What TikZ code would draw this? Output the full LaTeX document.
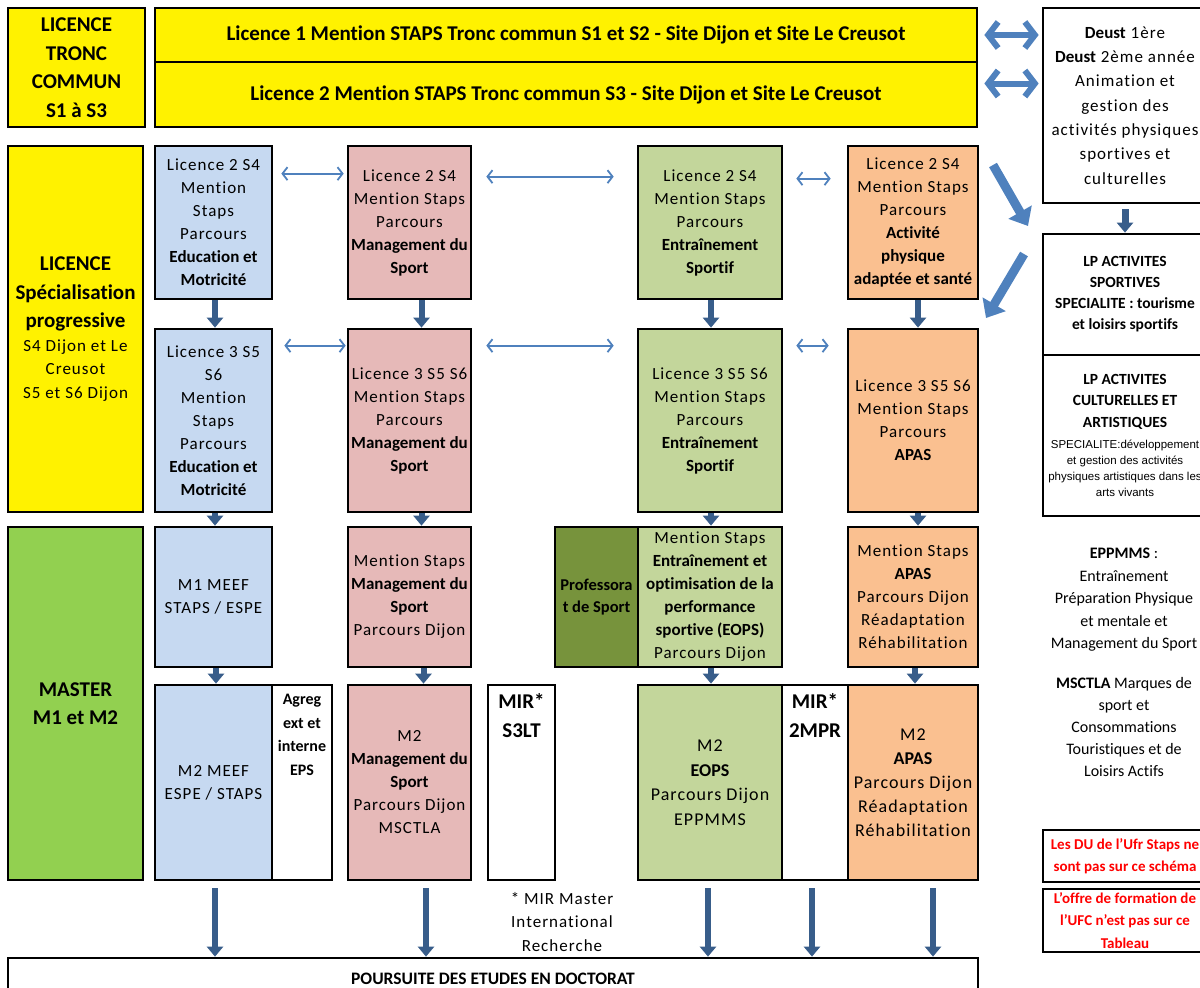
\documentclass[tikz,border=0pt]{standalone}
\usepackage{fontspec}
\setmainfont{Carlito}[Ligatures={TeX,NoCommon}]
\newfontfamily\boxfont{Carlito}[Ligatures={TeX,NoCommon},UprightFeatures={LetterSpace=6}]
\newfontfamily\arialfont{Liberation Sans}
\usetikzlibrary{arrows.meta, calc, positioning}

\definecolor{boxblue}{HTML}{C6D9F1}
\definecolor{boxpink}{HTML}{E6B9B8}
\definecolor{boxgreen}{HTML}{C3D69B}
\definecolor{boxorange}{HTML}{FAC090}
\definecolor{mastergreen}{HTML}{92D050}
\definecolor{profgreen}{HTML}{77933C}
\definecolor{arrowblue}{HTML}{4F81BD}
\definecolor{arrowdark}{HTML}{385D8A}
\definecolor{noteRed}{HTML}{FF0000}

\begin{document}
\begin{tikzpicture}[x=1pt,y=-1pt,
    box/.style={draw=black,line width=2.7pt,align=center,inner sep=1pt,
      font=\boxfont\fontsize{17}{23}\selectfont},
    side box/.style={box,fill=yellow,font=\boxfont\fontsize{21}{28.5}\selectfont},
    title box/.style={box,fill=yellow,minimum width=822,
      font=\fontsize{21}{24}\selectfont\bfseries},
    white box/.style={box,fill=white},
    top text/.style={inner sep=0pt},
    free text/.style={align=center,inner sep=0pt},
    wide arrow/.style={line width=6pt,color=arrowblue,
      arrows={Straight Barb[length=10pt,width=26pt]-Straight Barb[length=10pt,width=26pt]}},
    thin arrow/.style={line width=1.8pt,color=arrowblue,
      arrows={Straight Barb[length=5pt,width=13pt]-Straight Barb[length=5pt,width=13pt]}},
    down arrow/.style={line width=6pt,color=arrowdark,
      arrows={-Triangle[length=10pt,width=16pt]}},
    diag arrow/.style={line width=9pt,color=arrowblue,
      arrows={-Triangle[length=16pt,width=26pt]}}]

  \useasboundingbox (0,0) rectangle (1200,988);

  \node[side box,minimum width=137,minimum height=119] (tronc) at (76.5,67.5)
    {\textbf{LICENCE}\\\textbf{TRONC}\\\textbf{COMMUN}\\\textbf{S1 à S3}};
  \node[title box,minimum height=54] (l1) at (566,35)
    {Licence 1 Mention STAPS Tronc commun S1 et S2 - Site Dijon et Site Le Creusot};
  \node[title box,minimum height=65] (l2) at (566,94.5)
    {Licence 2 Mention STAPS Tronc commun S3 - Site Dijon et Site Le Creusot};
  \node[white box,minimum width=164,minimum height=195,font=\boxfont\fontsize{17}{24.3}\selectfont] (deust) at (1125,105.5)
    {\textbf{Deust} 1ère\\\textbf{Deust} 2ème année\\Animation et\\gestion des\\activités physiques\\sportives et\\culturelles};

  \node[side box,minimum width=135,minimum height=366] (spec) at (75.5,329)
    {\textbf{LICENCE}\\\textbf{Spécialisation}\\\textbf{progressive}\\[-5pt]
     {\fontsize{17}{23}\selectfont S4 Dijon et Le}\\[-5pt]
     {\fontsize{17}{23}\selectfont Creusot}\\[-5pt]
     {\fontsize{17}{23}\selectfont S5 et S6 Dijon}};

  \node[box,fill=boxblue,minimum width=117,minimum height=153] (b2) at (213.5,222.5)
    {Licence 2 S4\\Mention\\Staps\\Parcours\\\textbf{Education et}\\\textbf{Motricité}};
  \node[box,fill=boxpink,minimum width=123,minimum height=153] (p2) at (409.5,222.5)
    {Licence 2 S4\\Mention Staps\\Parcours\\\textbf{Management du}\\\textbf{Sport}};
  \node[box,fill=boxgreen,minimum width=144,minimum height=153] (g2) at (710,222.5)
    {Licence 2 S4\\Mention Staps\\Parcours\\\textbf{Entraînement}\\\textbf{Sportif}};
  \node[box,fill=boxorange,minimum width=130,minimum height=153] (o2) at (913,222.5)
    {Licence 2 S4\\Mention Staps\\Parcours\\\textbf{Activité}\\\textbf{physique}\\\textbf{adaptée et santé}};

  \node[box,fill=boxblue,minimum width=117,minimum height=183] (b3) at (213.5,420.5)
    {Licence 3 S5\\S6\\Mention\\Staps\\Parcours\\\textbf{Education et}\\\textbf{Motricité}};
  \node[box,fill=boxpink,minimum width=123,minimum height=183] (p3) at (409.5,420.5)
    {Licence 3 S5 S6\\Mention Staps\\Parcours\\\textbf{Management du}\\\textbf{Sport}};
  \node[box,fill=boxgreen,minimum width=144,minimum height=183] (g3) at (710,420.5)
    {Licence 3 S5 S6\\Mention Staps\\Parcours\\\textbf{Entraînement}\\\textbf{Sportif}};
  \node[box,fill=boxorange,minimum width=130,minimum height=183] (o3) at (913,420.5)
    {Licence 3 S5 S6\\Mention Staps\\Parcours\\\textbf{APAS}};

  \node[white box,minimum width=164,minimum height=121,font=\fontsize{15.5}{21}\selectfont\bfseries] (lpsport) at (1125,294.5)
    {LP ACTIVITES\\SPORTIVES\\SPECIALITE : tourisme\\et loisirs sportifs};
  \node[white box,minimum width=164,minimum height=161,font=\fontsize{15.5}{21.5}\selectfont] (lpculture) at (1125,435.5)
    {\textbf{LP ACTIVITES}\\\textbf{CULTURELLES ET}\\\textbf{ARTISTIQUES}\\
     {\arialfont\fontsize{11.5}{16}\selectfont SPECIALITE:développement}\\[-5.5pt]
     {\arialfont\fontsize{11.5}{16}\selectfont et gestion des activités}\\[-5.5pt]
     {\arialfont\fontsize{11.5}{16}\selectfont physiques artistiques dans les}\\[-5.5pt]
     {\arialfont\fontsize{11.5}{16}\selectfont arts vivants}};

  \node[side box,fill=mastergreen,minimum width=135,minimum height=353] (master) at (75.5,703.5)
    {\textbf{MASTER}\\\textbf{M1 et M2}};

  \node[box,fill=boxblue,minimum width=117,minimum height=140] (b4) at (213.5,597)
    {M1 MEEF\\STAPS / ESPE};
  \node[box,fill=boxpink,minimum width=123,minimum height=140] (p4) at (409.5,597)
    {Mention Staps\\\textbf{Management du}\\\textbf{Sport}\\Parcours Dijon};
  \node[box,fill=profgreen,minimum width=83,minimum height=140,font=\fontsize{16.5}{22}\selectfont\bfseries] (prof) at (596.5,597)
    {Professora\\t de Sport};
  \node[box,fill=boxgreen,minimum width=144,minimum height=140] (g4) at (710,597)
    {Mention Staps\\\textbf{Entraînement et}\\\textbf{optimisation de la}\\\textbf{performance}\\\textbf{sportive (EOPS)}\\Parcours Dijon};
  \node[box,fill=boxorange,minimum width=130,minimum height=140] (o4) at (913,597)
    {Mention Staps\\\textbf{APAS}\\Parcours Dijon\\Réadaptation\\Réhabilitation};

  \node[box,fill=boxblue,minimum width=117,minimum height=195] (b5) at (213.5,782.5)
    {M2 MEEF\\ESPE / STAPS};
  \node[white box,top text,minimum width=60,minimum height=195,font=\fontsize{16}{23.5}\selectfont\bfseries] (agreg) at (302,782.5)
    {\parbox[c][190pt][t]{58pt}{\centering\vspace*{7pt}Agreg\\ext et\\interne\\EPS}};
  \node[box,fill=boxpink,minimum width=123,minimum height=195] (p5) at (409.5,782.5)
    {M2\\\textbf{Management du}\\\textbf{Sport}\\Parcours Dijon\\MSCTLA};
  \node[white box,top text,minimum width=67,minimum height=195,font=\fontsize{21}{29}\selectfont\bfseries] (mirs) at (521.5,782.5)
    {\parbox[c][190pt][t]{64pt}{\centering\vspace*{6pt}MIR*\\S3LT}};
  \node[box,fill=boxgreen,minimum width=144,minimum height=195,font=\boxfont\fontsize{18}{24.5}\selectfont] (g5) at (710,782.5)
    {M2\\\textbf{EOPS}\\Parcours Dijon\\EPPMMS};
  \node[white box,top text,minimum width=66,minimum height=195,font=\fontsize{21}{29}\selectfont\bfseries] (mirm) at (815,782.5)
    {\parbox[c][190pt][t]{63pt}{\centering\vspace*{6pt}MIR*\\2MPR}};
  \node[box,fill=boxorange,minimum width=130,minimum height=195,font=\boxfont\fontsize{18}{24}\selectfont] (o5) at (913,782.5)
    {M2\\\textbf{APAS}\\Parcours Dijon\\Réadaptation\\Réhabilitation};

  \node[free text,font=\fontsize{16}{22.5}\selectfont] (eppmms) at (1124,600)
    {\textbf{EPPMMS} :\\Entraînement\\Préparation Physique\\et mentale et\\Management du Sport};
  \node[free text,font=\fontsize{16}{21.8}\selectfont] (msctla) at (1124,727)
    {\textbf{MSCTLA} Marques de\\sport et\\Consommations\\Touristiques et de\\Loisirs Actifs};
  \node[white box,minimum width=164,minimum height=52,text=noteRed,font=\fontsize{15}{21.5}\selectfont\bfseries] (du) at (1125,856)
    {Les DU de l'Ufr Staps ne\\sont pas sur ce schéma};
  \node[white box,minimum width=164,minimum height=63,text=noteRed,font=\fontsize{15}{22.5}\selectfont\bfseries] (ufc) at (1125,920.5)
    {L'offre de formation de\\l'UFC n'est pas sur ce\\Tableau};

  \node[free text,font=\boxfont\fontsize{17}{23.5}\selectfont] (mirnote) at (562,922)
    {* MIR Master\\International\\Recherche};
  \node[white box,minimum width=970,minimum height=42,font=\fontsize{17.5}{22}\selectfont\bfseries] (doc) at (493,979)
    {POURSUITE DES ETUDES EN DOCTORAT};

  \draw[wide arrow,shorten <=6pt,shorten >=3pt] (l1.east) -- (l1.east -| deust.west);
  \draw[wide arrow,shorten <=6pt,shorten >=3pt] ([yshift=11pt]l2.east) -- ([yshift=11pt]l2.east -| deust.west);
  \draw[down arrow,line width=7pt] (deust.south) ++(0,5) -- (lpsport.north);

  \draw[thin arrow,shorten <=8pt,shorten >=3pt] ([yshift=-29pt]b2.north east) -- ([yshift=-29pt]p2.north west);
  \draw[thin arrow,shorten <=14pt,shorten >=23pt] ([yshift=-32pt]p2.north east) -- ([yshift=-32pt]g2.north west);
  \draw[thin arrow,shorten <=13pt,shorten >=16pt] ([yshift=-34pt]g2.north east) -- ([yshift=-34pt]o2.north west);
  \draw[thin arrow,shorten <=11pt,shorten >=1pt] ([yshift=-18pt]b3.north east) -- ([yshift=-18pt]p3.north west);
  \draw[thin arrow,shorten <=14pt,shorten >=23pt] ([yshift=-18pt]p3.north east) -- ([yshift=-18pt]g3.north west);
  \draw[thin arrow,shorten <=13pt,shorten >=18pt] ([yshift=-18pt]g3.north east) -- ([yshift=-18pt]o3.north west);

  \coordinate (diagA) at (993,165);
  \coordinate (diagB) at (1028,226);
  \coordinate (diagC) at (1024,254);
  \coordinate (diagD) at (986,318);
  \draw[diag arrow] (diagA) -- (diagB);
  \draw[diag arrow] (diagC) -- (diagD);

  \draw[down arrow] ([xshift=1.5pt]b2.south) -- ([xshift=1.5pt]b3.north);
  \draw[down arrow] ([xshift=12pt]p2.south) -- ([xshift=12pt]p3.north);
  \draw[down arrow] ([xshift=1pt]g2.south) -- ([xshift=1pt]g3.north);
  \draw[down arrow] ([xshift=5pt]o2.south) -- ([xshift=5pt]o3.north);
  \draw[down arrow] ([xshift=1.5pt]b3.south) -- ([xshift=1.5pt]b4.north);
  \draw[down arrow] ([xshift=12pt]p3.south) -- ([xshift=12pt]p4.north);
  \draw[down arrow] ([xshift=1pt]g3.south) -- ([xshift=1pt]g4.north);
  \draw[down arrow] ([xshift=5pt]o3.south) -- ([xshift=5pt]o4.north);
  \draw[down arrow] ([xshift=2.5pt]b4.south) -- ([xshift=2.5pt]b5.north);
  \draw[down arrow] ([xshift=14pt]p4.south) -- ([xshift=14pt]p5.north);
  \draw[down arrow] ([xshift=1pt]g4.south) -- ([xshift=1pt]g5.north);
  \draw[down arrow] ([xshift=2pt]o4.south) -- ([xshift=2pt]o5.north);

  \coordinate (endA) at ([xshift=1.5pt,yshift=-7pt]b5.south);
  \coordinate (endB) at ([xshift=16.5pt,yshift=-7pt]p5.south);
  \coordinate (endC) at ([xshift=-2pt,yshift=-7pt]g5.south);
  \coordinate (endD) at ([xshift=-3pt,yshift=-7pt]mirm.south);
  \coordinate (endE) at ([xshift=20pt,yshift=-7pt]o5.south);
  \foreach \e in {endA,endB,endC,endD,endE}
    \draw[down arrow] (\e) -- (\e |- doc.north);

\end{tikzpicture}
\end{document}
